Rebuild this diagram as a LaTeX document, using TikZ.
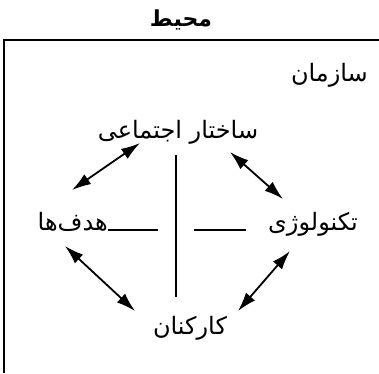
\documentclass[tikz,border=0pt]{standalone}
\usepackage{fontspec}
\usetikzlibrary{arrows.meta}
\newfontfamily\fa[Script=Arabic]{DejaVu Sans}
\TeXXeTstate=1
\begin{document}
\begin{tikzpicture}[x=1pt,y=-1pt,
  lbl/.style={font=\fa\fontsize{24}{28}\selectfont, inner sep=0pt},
  ttl/.style={font=\fa\bfseries\fontsize{22}{26}\selectfont, inner sep=0pt},
  dbl/.style={{Latex[length=19pt,width=12pt]}-{Latex[length=19pt,width=12pt]}, line width=1.8pt},
  thinline/.style={line width=1.1pt}]
\useasboundingbox (0,0) rectangle (379,373);
\node[ttl] (env) at (181,20) {\beginR محیط\endR};
\coordinate (bl) at (4,373);
\coordinate (tl) at (4,40);
\coordinate (tr) at (379,40);
\draw[thinline] (bl) -- (tl) -- (tr);
\node[lbl, anchor=base east] (org) at (368,81) {\beginR سازمان\endR};
\node[lbl, anchor=base] (social) at (178,138) {\beginR ساختار اجتماعی\endR};
\node[lbl, anchor=base east] (goals) at (108,230) {\beginR هدف‌ها\endR};
\coordinate (gl) at (158,230);
\draw[thinline] (goals.base east) -- (gl);
\node[lbl, anchor=base west] (tech) at (268,230) {\beginR تکنولوژی\endR};
\coordinate (tline) at (194,230);
\coordinate (tline2) at (246,230);
\draw[thinline] (tline) -- (tline2);
\node[lbl, anchor=base] (people) at (190,334) {\beginR کارکنان\endR};
\coordinate (vt) at (176,155);
\coordinate (vb) at (176,297);
\draw[line width=1.4pt] (vt) -- (vb);
\coordinate (a1s) at (140,143);
\coordinate (a1e) at (72,190);
\coordinate (a2s) at (230,152);
\coordinate (a2e) at (283,199);
\coordinate (a3s) at (65,246);
\coordinate (a3e) at (135,311);
\coordinate (a4s) at (290,251);
\coordinate (a4e) at (238,311);
\draw[dbl] (a1s) -- (a1e);
\draw[dbl] (a2s) -- (a2e);
\draw[dbl] (a3s) -- (a3e);
\draw[dbl] (a4s) -- (a4e);
\end{tikzpicture}
\end{document}
